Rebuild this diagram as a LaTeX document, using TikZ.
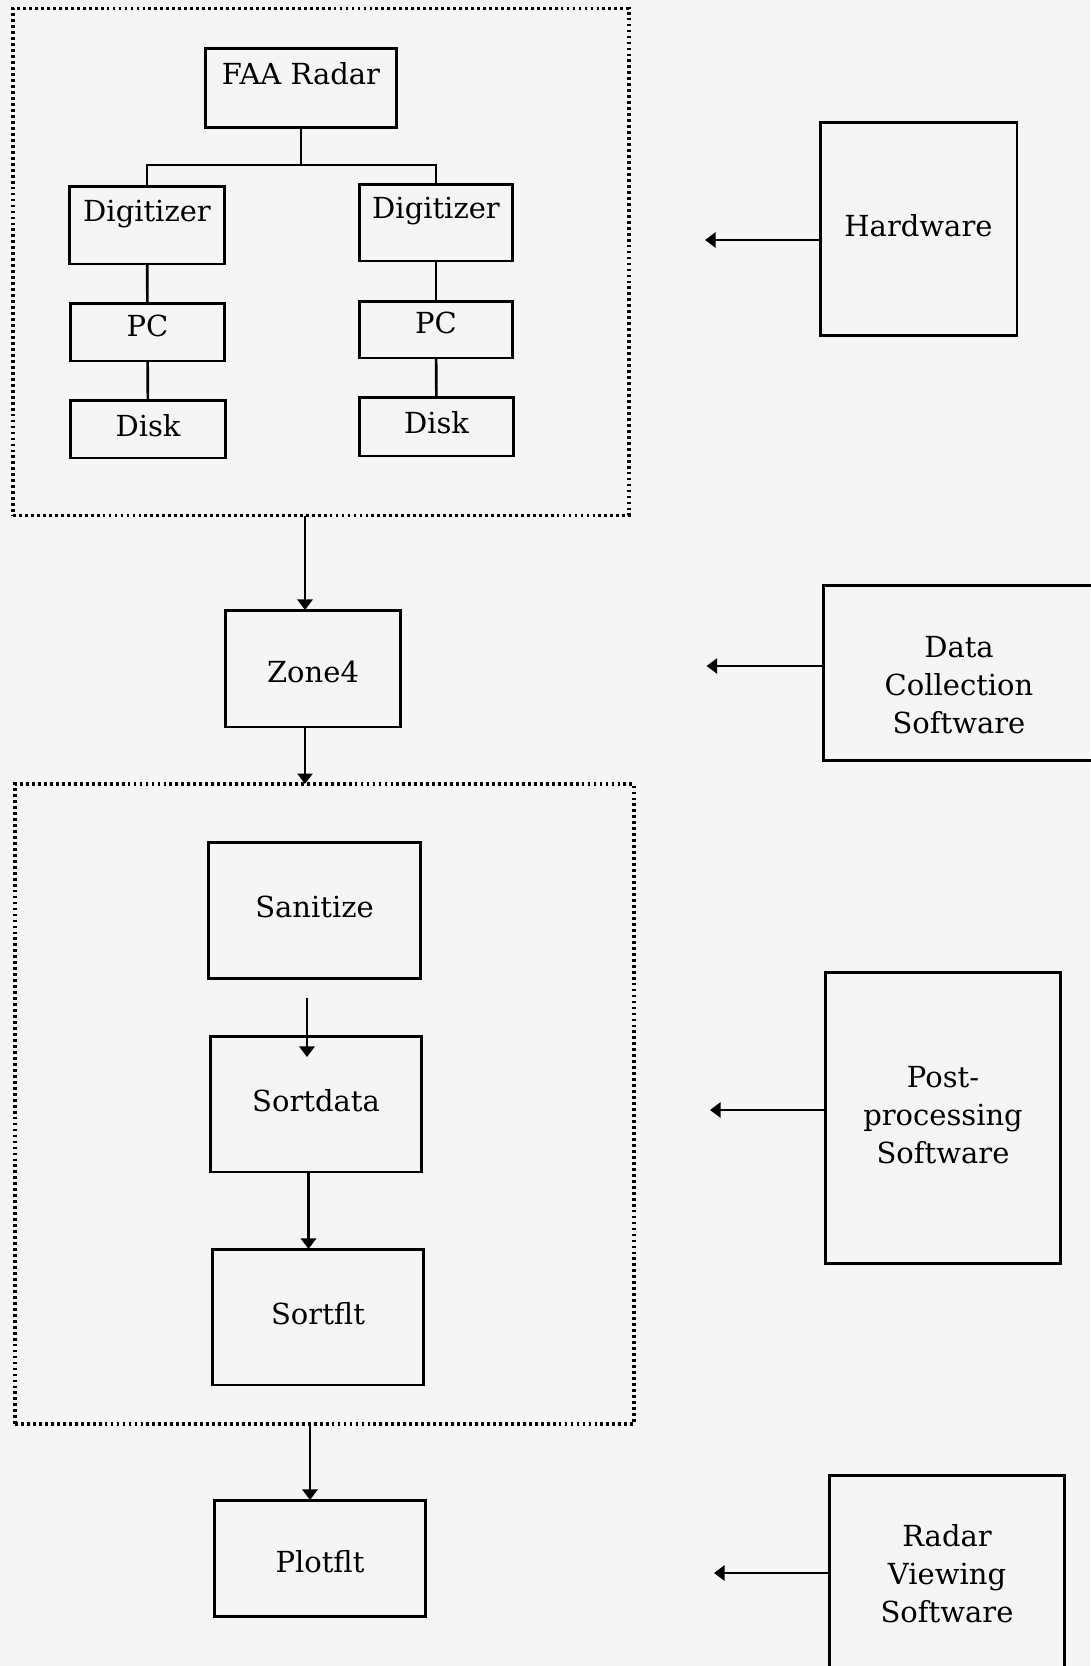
\documentclass[tikz,border=0pt]{standalone}
\usepackage{fontspec}
\setmainfont{DejaVu Serif}
\usetikzlibrary{arrows.meta,calc}

\begin{document}
\begin{tikzpicture}[x=0.02cm,y=-0.02cm,>={Triangle[length=6pt,width=8.5pt]},
				box/.style={draw, line width=1.7pt, inner sep=0, outer sep=0,
					font=\fontsize{16.5}{21.5}\selectfont, text height=16pt, text depth=8pt},
				raise/.style={text depth=#1},
				grp/.style={draw, line width=1.8pt, dash pattern=on 1.6pt off 1.8pt, inner sep=0, outer sep=0},
				conn/.style={line width=1.5pt}]

				\fill[black!4] (0,0) rectangle (1090,1666);
				\useasboundingbox (0,0) rectangle (1090,1666);

				%\\ hardware group
				\node[grp, minimum width=12.32cm, minimum height=10.15cm] (group1) at (321,262) {};
				\node[box, raise=20pt, minimum width=3.84cm, minimum height=1.6cm] (faa) at (301,88) {FAA Radar};
				\node[box, raise=20pt, minimum width=3.12cm, minimum height=1.56cm] (dig1) at (147,225) {Digitizer};
				\node[box, raise=20pt, minimum width=3.08cm, minimum height=1.54cm] (dig2) at (436,222.5) {Digitizer};
				\node[box, raise=11pt, minimum width=3.1cm, minimum height=1.16cm] (pc1) at (147.5,332) {PC};
				\node[box, raise=11pt, minimum width=3.08cm, minimum height=1.14cm] (pc2) at (436,329.5) {PC};
				\node[box, minimum width=3.12cm, minimum height=1.16cm] (disk1) at (148,429) {Disk};
				\node[box, minimum width=3.1cm, minimum height=1.18cm] (disk2) at (436.5,426.5) {Disk};

				\coordinate (split) at (301,165);
				\draw[conn] (faa.south) -- (split);
				\draw[conn] (split) -| (dig1.north);
				\draw[conn] (split) -| (dig2.north);
				\draw[conn] (dig1) -- (pc1);
				\draw[conn] (pc1) -- (disk1);
				\draw[conn] (dig2) -- (pc2);
				\draw[conn] (pc2) -- (disk2);

				%\\ data collection
				\node[box, raise=0pt, minimum width=3.5cm, minimum height=2.34cm] (zone) at (313,668.5) {Zone4};
				\draw[conn,->] ([xshift=-0.16cm]group1.south -| zone.north) -- ([xshift=-0.16cm]zone.north);

				%\\ post-processing group
				\node[grp, minimum width=12.38cm, minimum height=12.8cm] (group2) at (324.5,1104) {};
				\draw[conn,->] ([xshift=-0.16cm]zone.south) -- ([xshift=-0.16cm]zone.south |- group2.north);
				\node[box, minimum width=4.26cm, minimum height=2.72cm] (sanitize) at (314.5,910.5) {Sanitize};
				\node[box, minimum width=4.24cm, minimum height=2.72cm] (sortdata) at (316,1104) {Sortdata};
				\node[box, minimum width=4.24cm, minimum height=2.72cm] (sortflt) at (318,1317) {Sortflt};
				\draw[conn,->,shorten <=0.4cm,shorten >=-0.42cm] ([xshift=-0.15cm]sanitize.south) -- ([xshift=-0.15cm]sanitize.south |- sortdata.north);
				\draw[conn,->] ([xshift=-0.15cm]sortdata.south) -- ([xshift=-0.15cm]sortdata.south |- sortflt.north);

				%\\ viewing
				\node[box, raise=0pt, minimum width=4.22cm, minimum height=2.32cm] (plotflt) at (320,1558) {Plotflt};
				\draw[conn,->] ([xshift=-0.2cm]group2.south -| plotflt.north) -- ([xshift=-0.2cm]plotflt.north);

				%\\ legend boxes on the right
				\node[box, minimum width=3.94cm, minimum height=4.28cm] (hw) at (918.5,229) {Hardware};
				\node[box, text height=, text depth=, minimum width=5.44cm, minimum height=3.52cm,
					label={[font=\fontsize{16.5}{21.5}\selectfont, yshift=-0.3cm]center:\begin{tabular}{c} Data\\ Collection\\ Software \end{tabular}}] (dcs) at (959,673) {};
				\node[box, text height=, text depth=, minimum width=4.71cm, minimum height=5.84cm] (pps) at (943,1118) {\begin{tabular}{c}
						Post-\\ processing\\ Software
				\end{tabular}};
				\node[box, text height=, text depth=, minimum width=4.71cm, minimum height=4.08cm] (rvs) at (947,1577) {\begin{tabular}{c}
						Radar\\ Viewing\\ Software
				\end{tabular}};

				\coordinate (hwtip) at (705,240);
				\coordinate (dcstip) at (706.5,666);
				\coordinate (ppstip) at (710,1110);
				\coordinate (rvstip) at (714,1573);
				\draw[conn,->] (hwtip -| hw.west) -- (hwtip);
				\draw[conn,->] (dcstip -| dcs.west) -- (dcstip);
				\draw[conn,->] (ppstip -| pps.west) -- (ppstip);
				\draw[conn,->] (rvstip -| rvs.west) -- (rvstip);
			\end{tikzpicture}
\end{document}
